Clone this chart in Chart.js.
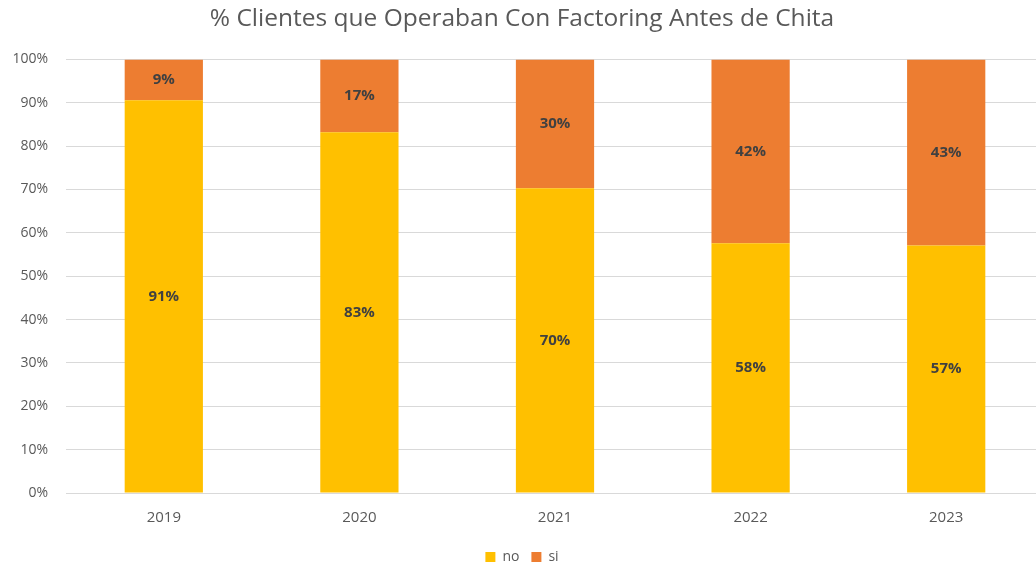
<!DOCTYPE html>
<html>
<head>
<meta charset="utf-8">
<script src="https://cdn.jsdelivr.net/npm/chart.js@4"></script>
<style>
  html, body { margin: 0; padding: 0; background: #fff; overflow: hidden; }
  #wrap { width: 1064px; height: 567px; position: relative; }
</style>
</head>
<body>
<div id="wrap"><canvas id="chart"></canvas></div>
<script>
// values (labels are rounded)
const years = ["2019", "2020", "2021", "2022", "2023"];
const noValues = [90.6, 83.2, 70.3, 57.6, 57.1];
const siValues = [9.4, 16.8, 29.7, 42.4, 42.9];
const yTicks = [0, 10, 20, 30, 40, 50, 60, 70, 80, 90, 100];

const FONT = "'Open Sans', sans-serif";

// simple data labels in the middle of each segment
const segmentLabels = {
  id: "segmentLabels",
  afterDatasetsDraw(chart) {
    const c = chart.ctx;
    c.save();
    c.font = "bold 15px " + FONT;
    c.fillStyle = "#404040";
    c.textAlign = "center";
    c.textBaseline = "middle";
    chart.data.datasets.forEach((ds, i) => {
      const meta = chart.getDatasetMeta(i);
      meta.data.forEach((bar, j) => {
        const v = ds.data[j];
        c.fillText(Math.round(v) + "%", bar.x, (bar.y + bar.base) / 2);
      });
    });
    c.restore();
  }
};

new Chart(document.getElementById("chart"), {
  type: "bar",
  data: {
    labels: years,
    datasets: [
      { label: "no", data: noValues, backgroundColor: "#ffc000" },
      { label: "si", data: siValues, backgroundColor: "#ed7d31" }
    ]
  },
  options: {
    responsive: true,
    maintainAspectRatio: false,
    animation: false,
    layout: { padding: { left: 0, right: 20, top: 4, bottom: -7 } },
    datasets: { bar: { categoryPercentage: 1, barPercentage: 0.4 } },
    plugins: {
      title: {
        display: true,
        text: "% Clientes que Operaban Con Factoring Antes de Chita",
        color: "#595959",
        font: { family: FONT, size: 24.5, weight: "normal" },
        padding: { top: 0, bottom: 26 }
      },
      legend: {
        position: "bottom",
        labels: {
          color: "#595959",
          font: { family: FONT, size: 14 },
          boxWidth: 10,
          boxHeight: 10,
          padding: 12
        }
      },
      tooltip: { enabled: false }
    },
    scales: {
      x: {
        stacked: true,
        grid: { display: false },
        border: { display: false },
        ticks: { color: "#595959", font: { family: FONT, size: 15 }, padding: 8 },
        afterFit: (s) => { s.height = 45; }
      },
      y: {
        stacked: true,
        min: 0,
        max: 100,
        afterBuildTicks: (s) => { s.ticks = yTicks.map(v => ({ value: v })); },
        afterFit: (s) => { s.width = 66; },
        grid: { color: "#d9d9d9", drawTicks: false },
        border: { display: false },
        ticks: {
          color: "#595959",
          font: { family: FONT, size: 14 },
          padding: 18,
          callback: (v) => v + "%"
        }
      }
    }
  },
  plugins: [segmentLabels]
});
</script>
</body>
</html>
